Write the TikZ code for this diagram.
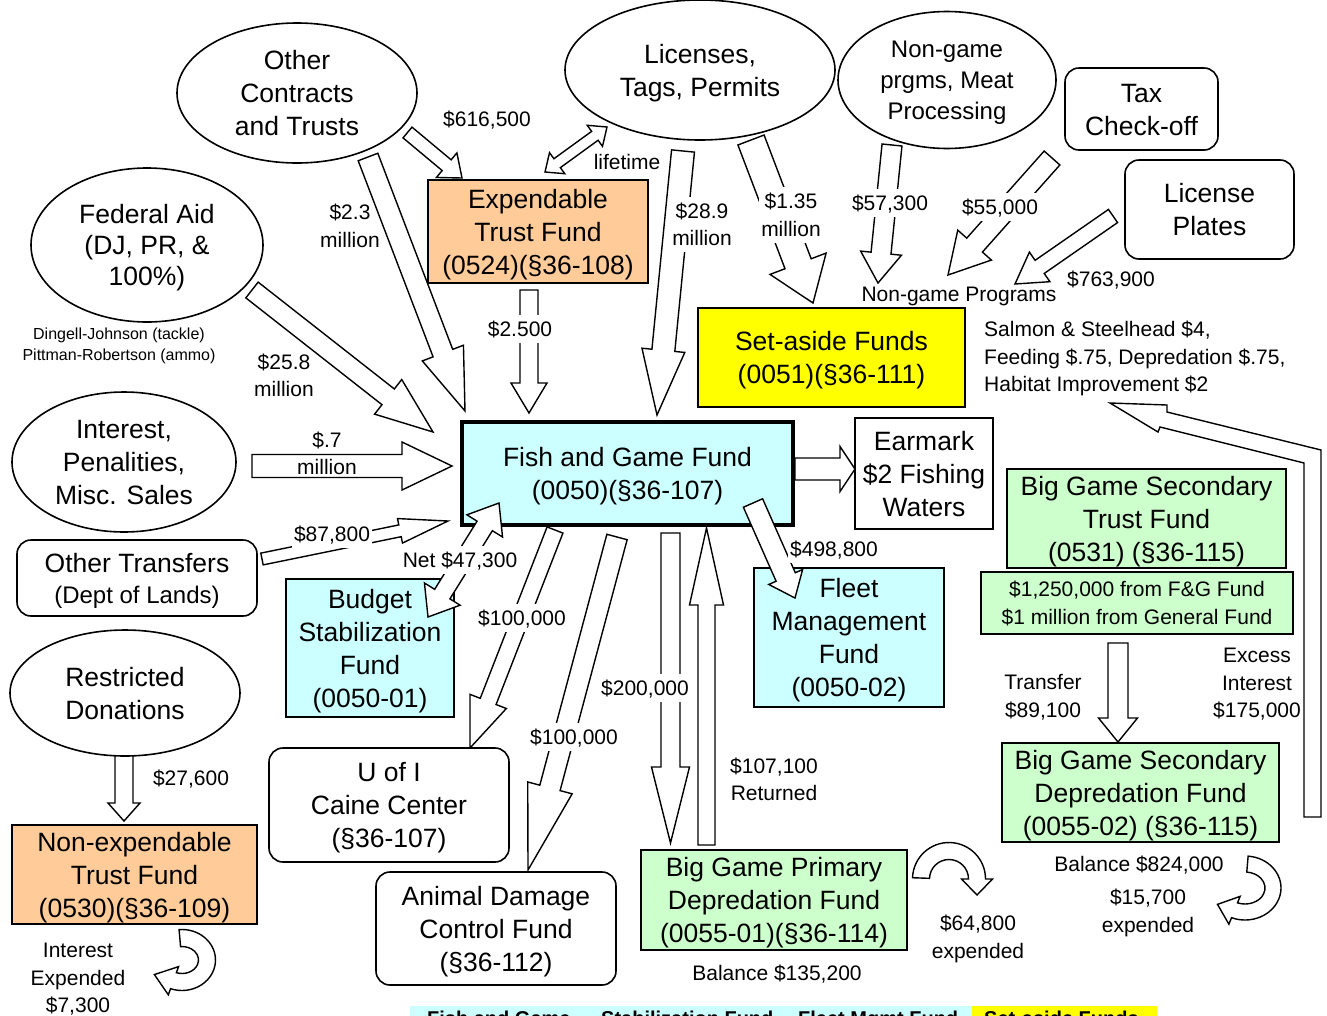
\documentclass[tikz,border=0pt]{standalone}
\usepackage{fontspec}
\setmainfont{Liberation Sans}
\usetikzlibrary{shapes.geometric,calc,backgrounds}

\definecolor{trustorange}{HTML}{FFCC99}
\definecolor{fundcyan}{HTML}{CCFFFF}
\definecolor{depgreen}{HTML}{CCFFCC}
\definecolor{setyellow}{HTML}{FFFF00}

\newcommand\bigtext{\fontsize{26.5}{33}\selectfont}
\newcommand\midtext{\fontsize{21}{27.5}\selectfont}
\newcommand\smalltext{\fontsize{16}{21}\selectfont}
\newcommand\ngtext{\fontsize{24}{31}\selectfont}
\newcommand\keytext{\bfseries\fontsize{20}{24}\selectfont}
% invisible strut for the first line of a label
\newcommand\capstrut{\rule{0pt}{0.93em}}

% straight block arrow: start, tip, half shaft width, half head width, head length
\newcommand\blockarrow[5]{%
  \coordinate (ba-neck) at ($(#2)!#5!(#1)$);
  \draw[blockflow] ($(#1)!#3!90:(#2)$) -- ($(ba-neck)!#3!90:(#2)$)
    -- ($(ba-neck)!#4!90:(#2)$) -- (#2) -- ($(ba-neck)!#4!-90:(#2)$)
    -- ($(ba-neck)!#3!-90:(#2)$) -- ($(#1)!#3!-90:(#2)$) -- cycle;}

% block arrow with a head at both ends
\newcommand\doublearrow[5]{%
  \coordinate (da-a) at ($(#1)!#5!(#2)$);
  \coordinate (da-b) at ($(#2)!#5!(#1)$);
  \draw[blockflow] (#1) -- ($(da-a)!#4!90:(#2)$) -- ($(da-a)!#3!90:(#2)$)
    -- ($(da-b)!#3!90:(#2)$) -- ($(da-b)!#4!90:(#2)$) -- (#2)
    -- ($(da-b)!#4!-90:(#2)$) -- ($(da-b)!#3!-90:(#2)$)
    -- ($(da-a)!#3!-90:(#2)$) -- ($(da-a)!#4!-90:(#2)$) -- cycle;}

% curved "spent" arrow on an elliptical band:
% centre, rx, ry, half band, start angle, end angle, half head, head length
\newcommand\turnarrow[8]{%
  \pgfmathsetmacro\tuRxo{#2+#4}\pgfmathsetmacro\tuRyo{#3+#4}%
  \pgfmathsetmacro\tuRxi{#2-#4}\pgfmathsetmacro\tuRyi{#3-#4}%
  \pgfmathsetmacro\tuHxo{#2+#7}\pgfmathsetmacro\tuHyo{#3+#7}%
  \pgfmathsetmacro\tuHxi{#2-#7}\pgfmathsetmacro\tuHyi{#3-#7}%
  \pgfmathsetmacro\tuTx{-#2*sin(#6)}\pgfmathsetmacro\tuTy{#3*cos(#6)}%
  \pgfmathsetmacro\tuTl{veclen(\tuTx,\tuTy)}%
  \pgfmathsetmacro\tuPx{#2*cos(#6)+#8*\tuTx/\tuTl}%
  \pgfmathsetmacro\tuPy{#3*sin(#6)+#8*\tuTy/\tuTl}%
  \draw[blockflow] ($(#1)+({\tuRxo*cos(#5)},{\tuRyo*sin(#5)})$)
    arc[start angle=#5, end angle=#6, x radius=\tuRxo, y radius=\tuRyo]
    -- ($(#1)+({\tuHxo*cos(#6)},{\tuHyo*sin(#6)})$)
    -- ($(#1)+(\tuPx,\tuPy)$)
    -- ($(#1)+({\tuHxi*cos(#6)},{\tuHyi*sin(#6)})$)
    -- ($(#1)+({\tuRxi*cos(#6)},{\tuRyi*sin(#6)})$)
    arc[start angle=#6, end angle=#5, x radius=\tuRxi, y radius=\tuRyi]
    -- cycle;}

\tikzset{
  every node/.style={inner sep=0pt, align=center,
    % a fixed depth on the last line keeps the lettering optically centred
    execute at end node={\rule[-0.21em]{0pt}{0pt}}},
  blockflow/.style={draw, line width=1.4pt, fill=white, line join=miter},
  fundbox/.style={draw, line width=1.6pt, rectangle, font=\bigtext},
  srcellipse/.style={draw, line width=1.6pt, ellipse, fill=white, font=\bigtext},
  roundbox/.style={draw, line width=1.6pt, rectangle, rounded corners=14pt, fill=white, font=\bigtext},
  amount/.style={font=\midtext},
  gapamount/.style={font=\midtext, fill=white, inner sep=2pt},
  keylabel/.style={font=\keytext, anchor=base west},
}

\begin{document}
\begin{tikzpicture}[x=1pt,y=-1pt]
\useasboundingbox (0,0) rectangle (1327,1015);
\clip (0,0) rectangle (1327,1015);

% ---------- flows behind the boxes ----------
\begin{pgfonlayer}{background}
\fill[white] (0,0) rectangle (1327,1015);

\coordinate (oc-exp-s) at (407.5,132.5);  \coordinate (oc-exp-e) at (462,178);
\blockarrow{oc-exp-s}{oc-exp-e}{7pt}{16pt}{20pt}
\coordinate (oc-fg-s) at (368,157);  \coordinate (oc-fg-e) at (465,411);
\blockarrow{oc-fg-s}{oc-fg-e}{10.5pt}{22pt}{62pt}
\coordinate (fed-fg-s) at (252,290);  \coordinate (fed-fg-e) at (433,432);
\blockarrow{fed-fg-s}{fed-fg-e}{10pt}{22pt}{57pt}
\coordinate (int-fg-s) at (252,466);  \coordinate (int-fg-e) at (452,466);
\blockarrow{int-fg-s}{int-fg-e}{11.5pt}{24pt}{50pt}
\coordinate (ot-fg-s) at (262,559);  \coordinate (ot-fg-e) at (448,521);
\blockarrow{ot-fg-s}{ot-fg-e}{6pt}{12.5pt}{49pt}
\coordinate (fg-uofi-s) at (555,530);  \coordinate (fg-uofi-e) at (470,748);
\blockarrow{fg-uofi-s}{fg-uofi-e}{8.5pt}{19.5pt}{50pt}
\coordinate (fg-adc-s) at (617,537);  \coordinate (fg-adc-e) at (528,870);
\blockarrow{fg-adc-s}{fg-adc-e}{10.5pt}{23pt}{85pt}
\coordinate (fg-bgp-s) at (670.5,533);  \coordinate (fg-bgp-e) at (670.5,843);
\blockarrow{fg-bgp-s}{fg-bgp-e}{9.5pt}{19pt}{76pt}
\coordinate (bgp-fg-s) at (706.5,845);  \coordinate (bgp-fg-e) at (706.5,528);
\blockarrow{bgp-fg-s}{bgp-fg-e}{8.5pt}{17pt}{77pt}
\coordinate (fg-ear-s) at (795,469);  \coordinate (fg-ear-e) at (855,469);
\blockarrow{fg-ear-s}{fg-ear-e}{11pt}{22.5pt}{15pt}
\coordinate (exp-fg-s) at (529,290);  \coordinate (exp-fg-e) at (529,413);
\blockarrow{exp-fg-s}{exp-fg-e}{9pt}{18pt}{30pt}
\coordinate (lic-exp-a) at (545,172);  \coordinate (lic-exp-b) at (607,127);
\doublearrow{lic-exp-a}{lic-exp-b}{5.5pt}{13pt}{15pt}
\coordinate (lic-fg-s) at (683,151);  \coordinate (lic-fg-e) at (657,415);
\blockarrow{lic-fg-s}{lic-fg-e}{11.5pt}{21.5pt}{65pt}
\coordinate (lic-set-s) at (751,140);  \coordinate (lic-set-e) at (813,303);
\blockarrow{lic-set-s}{lic-set-e}{14pt}{30pt}{42pt}
\coordinate (ng-prog-s) at (892,145);  \coordinate (ng-prog-e) at (878,283);
\blockarrow{ng-prog-s}{ng-prog-e}{10pt}{20.5pt}{30pt}
\coordinate (tax-prog-s) at (1052,158);  \coordinate (tax-prog-e) at (948,275);
\blockarrow{tax-prog-s}{tax-prog-e}{10.5pt}{22.5pt}{40pt}
\coordinate (lp-prog-s) at (1113,216);  \coordinate (lp-prog-e) at (1015,284);
\blockarrow{lp-prog-s}{lp-prog-e}{8pt}{18pt}{30pt}
\coordinate (bg-dep-s) at (1118,643);  \coordinate (bg-dep-e) at (1118,742);
\blockarrow{bg-dep-s}{bg-dep-e}{10pt}{19.5pt}{24pt}
\coordinate (don-ne-s) at (124,755);  \coordinate (don-ne-e) at (124,821);
\blockarrow{don-ne-s}{don-ne-e}{9pt}{16pt}{18pt}

% excess interest returned to the set-aside habitat money
\coordinate (xs-tip) at (1110,403);
\draw[blockflow] (1304,817) -- (1304,463) -- (1160,427) -- (1158,432) -- (xs-tip)
  -- (1167,405) -- (1167,412) -- (1321,450) -- (1321,817) -- cycle;
\end{pgfonlayer}

% ---------- sources ----------
\node[srcellipse, minimum width=240pt, minimum height=140pt] (contracts) at (297,93) {\capstrut Other\\Contracts\\and Trusts};
\node[srcellipse, minimum width=270pt, minimum height=140pt] (licenses) at (700,70) {\capstrut Licenses,\\Tags, Permits};
\node[srcellipse, minimum width=218pt, minimum height=137pt, font=\ngtext] (nongame) at (947,80) {\capstrut Non-game\\prgms, Meat\\Processing};
\node[srcellipse, minimum width=232pt, minimum height=154pt, font=\fontsize{26.5}{31}\selectfont] (fedaid) at (147,245) {\capstrut Federal Aid\\(DJ, PR, \&\\100\%)};
\node[srcellipse, minimum width=224pt, minimum height=140pt] (interest) at (124,462) {\capstrut Interest,\\Penalities,\\Misc. Sales};
\node[srcellipse, minimum width=230pt, minimum height=126pt] (donations) at (125,693) {\capstrut Restricted\\Donations};

\node[roundbox, minimum width=153pt, minimum height=82pt] (taxoff) at (1141.5,109) {\capstrut Tax\\Check-off};
\node[roundbox, minimum width=169pt, minimum height=99pt] (plates) at (1209.5,209.5) {\capstrut License\\Plates};
\node[roundbox, minimum width=240pt, minimum height=76pt, font=\fontsize{26.5}{31}\selectfont] (transfers) at (137,578) {\capstrut Other Transfers\\{\fontsize{24}{30}\selectfont (Dept of Lands)}};
\node[roundbox, minimum width=240pt, minimum height=114pt] (uofi) at (389,805) {\capstrut U of I\\Caine Center\\(§36-107)};
\node[roundbox, minimum width=240pt, minimum height=113pt] (animal) at (496,928.5) {\capstrut Animal Damage\\Control Fund\\(§36-112)};

% ---------- funds ----------
\node[fundbox, fill=trustorange, minimum width=220pt, minimum height=103pt] (expendable) at (538,231.5) {\capstrut Expendable\\Trust Fund\\(0524)(§36-108)};
\node[fundbox, fill=fundcyan, line width=4pt, minimum width=331pt, minimum height=103pt] (fgfund) at (627.5,473.5) {\capstrut Fish and Game Fund\\(0050)(§36-107)};
\node[fundbox, fill=setyellow, minimum width=267pt, minimum height=99pt] (setaside) at (831.5,357.5) {\capstrut Set-aside Funds\\(0051)(§36-111)};
\node[fundbox, fill=white, minimum width=138pt, minimum height=111pt] (earmark) at (924,473.5) {\capstrut Earmark\\\$2 Fishing\\Waters};
\node[fundbox, fill=fundcyan, minimum width=168pt, minimum height=138pt] (budget) at (370,648) {\capstrut Budget\\Stabilization\\Fund\\(0050-01)};
\node[fundbox, fill=fundcyan, minimum width=190pt, minimum height=139pt] (fleet) at (849,637.5) {\capstrut Fleet\\Management\\Fund\\(0050-02)};
\node[fundbox, fill=depgreen, minimum width=279pt, minimum height=99pt] (bgtrust) at (1146.5,518.5) {\capstrut Big Game Secondary\\Trust Fund\\(0531) (§36-115)};
\node[fundbox, fill=depgreen, minimum width=312pt, minimum height=62pt, font=\midtext] (bgnote) at (1137,603) {\capstrut\$1,250,000 from F\&G Fund\\\$1 million from General Fund};
\node[fundbox, fill=depgreen, minimum width=277pt, minimum height=99pt] (bgsecdep) at (1140.5,792.5) {\capstrut Big Game Secondary\\Depredation Fund\\(0055-02) (§36-115)};
\node[fundbox, fill=depgreen, minimum width=266pt, minimum height=100pt] (bgprimdep) at (774,900) {\capstrut Big Game Primary\\Depredation Fund\\(0055-01)(§36-114)};
\node[fundbox, fill=trustorange, minimum width=245pt, minimum height=99pt] (nonexp) at (134.5,874.5) {\capstrut Non-expendable\\Trust Fund\\(0530)(§36-109)};

% flows drawn over the Fish and Game Fund box
\coordinate (bsf-fg-a) at (428,617);  \coordinate (bsf-fg-b) at (499,503);
\doublearrow{bsf-fg-a}{bsf-fg-b}{9pt}{21pt}{27pt}
\coordinate (fg-fleet-s) at (753,503);  \coordinate (fg-fleet-e) at (795,598);
\blockarrow{fg-fleet-s}{fg-fleet-e}{10.5pt}{18.5pt}{23pt}

% money spent out of the trust and depredation funds
\coordinate (loop-nonexp) at (182,960);
\turnarrow{loop-nonexp}{25}{22}{8.5}{-95}{110}{15}{20}
\coordinate (loop-primary) at (949,879);
\turnarrow{loop-primary}{28}{28}{8.5}{182}{360}{15.5}{16}
\coordinate (loop-secondary) at (1245,888);
\turnarrow{loop-secondary}{28}{24}{8}{-85}{112}{15}{18}

% ---------- amounts ----------
\node[amount] (t616) at (487,119) {\capstrut\$616,500};
\node[amount] (tlifetime) at (627,162) {\capstrut lifetime};
\node[amount] (t23) at (350,226) {\capstrut\$2.3\\million};
\node[gapamount] (t289) at (702,224.5) {\capstrut\$28.9\\million};
\node[gapamount] (t135) at (791,215) {\capstrut\$1.35\\million};
\node[gapamount] (t573) at (890,203) {\capstrut\$57,300};
\node[gapamount] (t550) at (1000,207) {\capstrut\$55,000};
\node[amount] (t7639) at (1111,279) {\capstrut\$763,900};
\node[amount] (tprog) at (959,294) {\capstrut Non-game Programs};
\node[amount, anchor=west, align=left] (habitat) at (984,356.5) {\capstrut Salmon \& Steelhead \$4,\\Feeding \$.75, Depredation \$.75,\\Habitat Improvement \$2};
\node[font=\smalltext] (tdj) at (119,344.5) {\capstrut Dingell-Johnson (tackle)\\Pittman-Robertson (ammo)};
\node[amount] (t258) at (284,375.5) {\capstrut\$25.8\\million};
\node[gapamount] (t2500) at (520,329) {\capstrut\$2.500};
\node[amount] (t07) at (327,453.5) {\capstrut\$.7\\million};
\node[gapamount] (t878) at (332,534) {\capstrut\$87,800};
\node[gapamount] (tnet) at (460,560) {\capstrut Net \$47,300};
\node[gapamount] (t100a) at (522,618) {\capstrut\$100,000};
\node[gapamount] (t200) at (645,688) {\capstrut\$200,000};
\node[gapamount] (t100b) at (574,737) {\capstrut\$100,000};
\node[gapamount] (t4988) at (834,549) {\capstrut\$498,800};
\node[amount] (t1071) at (774,779.5) {\capstrut\$107,100\\Returned};
\node[amount] (t276) at (191,778) {\capstrut\$27,600};
\node[amount] (t891) at (1043,696) {\capstrut Transfer\\\$89,100};
\node[amount] (texcess) at (1257,682.5) {\capstrut Excess\\Interest\\\$175,000};
\node[amount] (tbal824) at (1139,864) {\capstrut Balance \$824,000};
\node[amount] (t157) at (1148,911) {\capstrut\$15,700\\expended};
\node[amount] (t648) at (978,937) {\capstrut\$64,800\\expended};
\node[amount] (tbal135) at (777,973) {\capstrut Balance \$135,200};
\node[amount] (t73) at (78,977.5) {\capstrut Interest\\Expended\\\$7,300};

% ---------- colour key along the bottom edge ----------
\node[fill=fundcyan, minimum width=562pt, minimum height=30pt, anchor=north west] (keycyan) at (410,1006) {};
\node[fill=setyellow, minimum width=185pt, minimum height=30pt, anchor=north west] (keyyellow) at (972,1006) {};
\node[keylabel] (keyfg) at (427,1025) {Fish and Game –};
\node[keylabel] (keybsf) at (601,1025) {Stabilization Fund,};
\node[keylabel] (keyfleet) at (798,1025) {Fleet Mgmt Fund};
\node[keylabel] (keyset) at (984,1025) {Set-aside Funds};
\end{tikzpicture}
\end{document}
